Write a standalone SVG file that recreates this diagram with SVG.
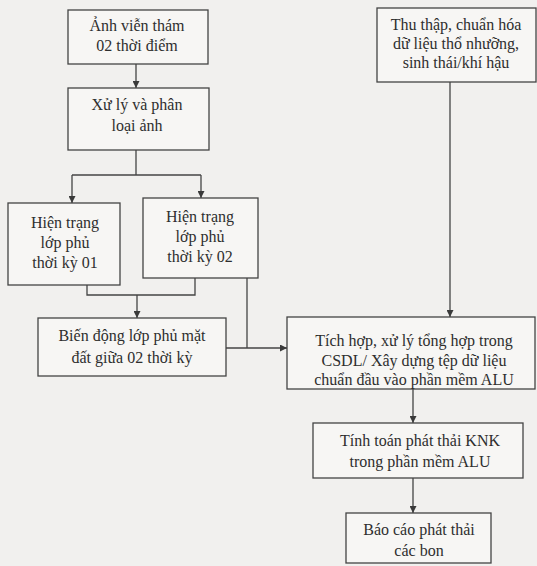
<svg xmlns="http://www.w3.org/2000/svg" width="537" height="566" viewBox="0 0 537 566">
<defs>
<marker id="ah" viewBox="0 0 10 10" refX="10" refY="5" markerWidth="7" markerHeight="7" orient="auto" markerUnits="userSpaceOnUse">
<path d="M0,0 L10,5 L0,10 z" fill="#3a3a3a"/>
</marker>
<style>
.box{fill:#f7f6f4;stroke:#444;stroke-width:1.3}
.t{font-family:"Liberation Serif","DejaVu Serif",serif;font-size:16px;fill:#2e2e2e;text-anchor:middle}
.c{fill:none;stroke:#444;stroke-width:1.3}
</style>
</defs>
<rect width="537" height="566" fill="#f1f0ee"/>
<g id="connectors">
<path class="c" d="M136,64 V88" marker-end="url(#ah)"/>
<path class="c" d="M136,150 V175"/>
<path class="c" d="M72,175 H201"/>
<path class="c" d="M72,175 V203" marker-end="url(#ah)"/>
<path class="c" d="M201,175 V198" marker-end="url(#ah)"/>
<path class="c" d="M87,285 V295 H195 V278"/>
<path class="c" d="M137,295 V318" marker-end="url(#ah)"/>
<path class="c" d="M247,278 V348"/>
<path class="c" d="M226,348 H287" marker-end="url(#ah)"/>
<path class="c" d="M450,82 V317" marker-end="url(#ah)"/>
<path class="c" d="M413,389 V423" marker-end="url(#ah)"/>
<path class="c" d="M413,478 V513" marker-end="url(#ah)"/>
</g>
<g id="n1"><rect class="box" x="68" y="10" width="140" height="54"/>
<text class="t" x="137" y="31">Ảnh viễn thám</text><text class="t" x="137" y="51">02 thời điểm</text></g>
<g id="n2"><rect class="box" x="68" y="88" width="141" height="62"/>
<text class="t" x="137" y="110">Xử lý và phân</text><text class="t" x="137" y="131">loại ảnh</text></g>
<g id="n3"><rect class="box" x="8" y="203" width="112" height="82"/>
<text class="t" x="65" y="228">Hiện trạng</text><text class="t" x="65" y="248">lớp phủ</text><text class="t" x="65" y="268">thời kỳ 01</text></g>
<g id="n4"><rect class="box" x="143" y="198" width="115" height="80"/>
<text class="t" x="200" y="222">Hiện trạng</text><text class="t" x="200" y="242">lớp phủ</text><text class="t" x="200" y="262">thời kỳ 02</text></g>
<g id="n5"><rect class="box" x="38" y="318" width="188" height="58"/>
<text class="t" x="132" y="341">Biến động lớp phủ mặt</text><text class="t" x="132" y="363">đất giữa 02 thời kỳ</text></g>
<g id="n6"><rect class="box" x="377" y="8" width="159" height="74"/>
<text class="t" x="456" y="30">Thu thập, chuẩn hóa</text><text class="t" x="456" y="49">dữ liệu thổ nhưỡng,</text><text class="t" x="456" y="68">sinh thái/khí hậu</text></g>
<g id="n7"><rect class="box" x="287" y="317" width="248" height="72"/>
<text class="t" x="414" y="346">Tích hợp, xử lý tổng hợp trong</text><text class="t" x="414" y="366">CSDL/ Xây dựng tệp dữ liệu</text><text class="t" x="414" y="385">chuẩn đầu vào phần mềm ALU</text></g>
<g id="n8"><rect class="box" x="313" y="423" width="210" height="55"/>
<text class="t" x="420" y="446">Tính toán phát thải KNK</text><text class="t" x="420" y="467">trong phần mềm ALU</text></g>
<g id="n9"><rect class="box" x="346" y="513" width="145" height="50"/>
<text class="t" x="419" y="535">Báo cáo phát thải</text><text class="t" x="419" y="556">các bon</text></g>
</svg>
